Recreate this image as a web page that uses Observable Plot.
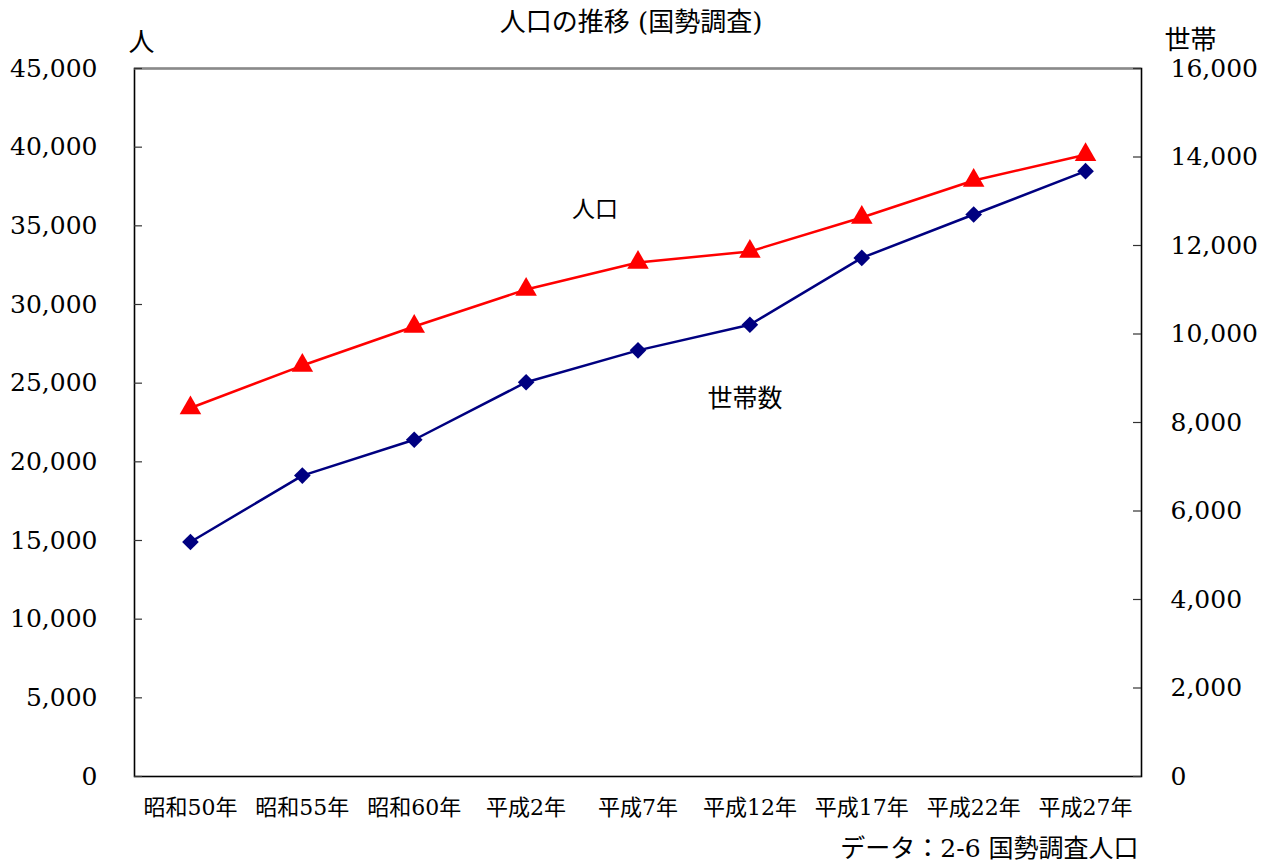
<!DOCTYPE html>
<html>
<head>
<meta charset="utf-8">
<script src="https://cdn.jsdelivr.net/npm/d3@7"></script>
<script src="https://cdn.jsdelivr.net/npm/@observablehq/plot@0.6"></script>
<style>
  html, body { margin: 0; padding: 0; background: #fff; }
  #chart svg { display: block; }
</style>
</head>
<body>
<div id="chart"></div>
<script>
const categories = ["昭和50年", "昭和55年", "昭和60年", "平成2年", "平成7年", "平成12年", "平成17年", "平成22年", "平成27年"];
const population = [23420, 26120, 28600, 30950, 32670, 33370, 35530, 37880, 39520];
const households = [5300, 6800, 7610, 8910, 9630, 10210, 11720, 12700, 13680];
const leftTicks = [0, 5000, 10000, 15000, 20000, 25000, 30000, 35000, 40000, 45000];
const rightTicks = [0, 2000, 4000, 6000, 8000, 10000, 12000, 14000, 16000];
const leftMax = 45000;
const rightMax = 16000;

const ratio = leftMax / rightMax;
const fmt = d3.format(",");
const data = categories.map((c, i) => ({cat: c, pop: population[i], hh: households[i] * ratio}));

const W = 1264, H = 863, mL = 134, mR = 123, mT = 68, mB = 87;
const innerW = W - mL - mR;
const serif = "'DejaVu Serif', 'Noto Sans CJK JP', serif";

const chart = Plot.plot({
  width: W,
  height: H,
  marginLeft: mL,
  marginRight: mR,
  marginTop: mT,
  marginBottom: mB,
  style: {fontFamily: serif, background: "#fff", color: "#000"},
  x: {type: "point", domain: categories, padding: 0.5, round: false, axis: null},
  y: {domain: [0, leftMax], axis: null},
  marks: [
    Plot.frame({stroke: "#000", strokeWidth: 1.6}),
    Plot.ruleY([leftMax], {stroke: "#8a8a8a", strokeWidth: 2}),
    Plot.ruleY(leftTicks, {y: d => d, insetRight: innerW - 8, stroke: "#333", strokeWidth: 1.2}),
    Plot.ruleY(rightTicks, {y: d => d * ratio, insetLeft: innerW - 8, stroke: "#333", strokeWidth: 1.2}),
    Plot.text(leftTicks, {y: d => d, text: d => fmt(d), frameAnchor: "left", dx: -37, textAnchor: "end", lineAnchor: "middle", fontSize: 25, fill: "#000"}),
    Plot.text(rightTicks, {y: d => d * ratio, text: d => fmt(d), frameAnchor: "right", dx: 29, textAnchor: "start", lineAnchor: "middle", fontSize: 25, fill: "#000"}),
    Plot.text(categories, {x: d => d, text: d => d, frameAnchor: "bottom", dy: 31, lineAnchor: "middle", fontSize: 22, fill: "#000"}),
    Plot.line(data, {x: "cat", y: "pop", stroke: "#ff0000", strokeWidth: 2.5}),
    Plot.line(data, {x: "cat", y: "hh", stroke: "#000080", strokeWidth: 2.5}),
    Plot.dot(data, {x: "cat", y: "pop", symbol: "triangle", r: 8, fill: "#ff0000", stroke: "none"}),
    Plot.dot(data, {x: "cat", y: "hh", symbol: "diamond2", r: 7.5, fill: "#000080", stroke: "none"}),
    Plot.text(["人口"], {x: () => "平成2年", y: () => 36000, dx: 69, text: d => d, lineAnchor: "middle", fontSize: 23, fill: "#000"}),
    Plot.text(["世帯数"], {x: () => "平成7年", y: () => 24000, dx: 107, text: d => d, lineAnchor: "middle", fontSize: 25, fill: "#000"}),
    Plot.text(["人口の推移 (国勢調査)"], {frameAnchor: "top", dx: -7, dy: -46, text: d => d, textAnchor: "middle", lineAnchor: "middle", fontSize: 26, fill: "#000"}),
    Plot.text(["人"], {frameAnchor: "top-left", dx: 7, dy: -26, text: d => d, textAnchor: "middle", lineAnchor: "middle", fontSize: 26, fill: "#000"}),
    Plot.text(["世帯"], {frameAnchor: "top-right", dx: 49, dy: -28, text: d => d, textAnchor: "middle", lineAnchor: "middle", fontSize: 26, fill: "#000"}),
    Plot.text(["データ：2-6 国勢調査人口"], {frameAnchor: "bottom-right", dx: -3, dy: 72, textAnchor: "end", lineAnchor: "middle", text: d => d, fontSize: 25, fill: "#000"})
  ]
});
document.getElementById("chart").appendChild(chart);
</script>
</body>
</html>
